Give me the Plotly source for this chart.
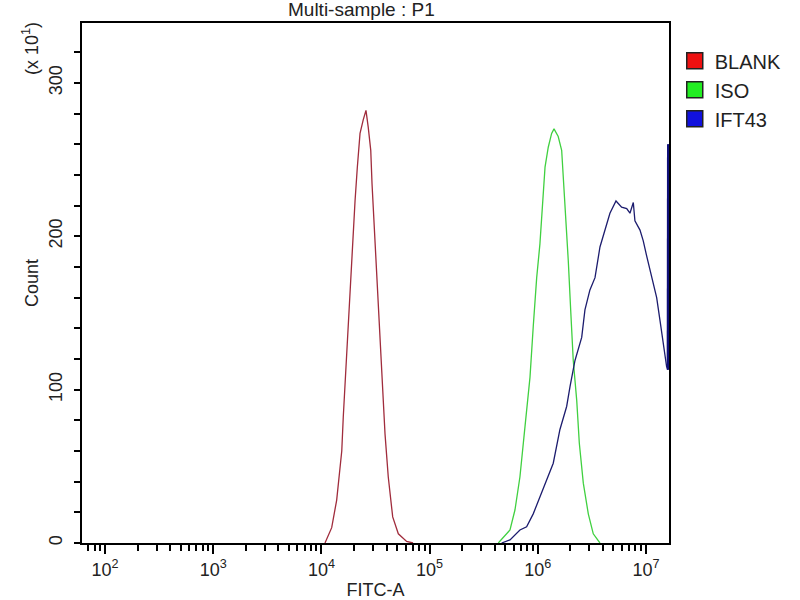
import plotly.graph_objects as go

# ---- data (FITC-A intensity, count in units of x10^1) ----
blank_x = [10790, 12450, 13840, 15420, 15920, 16870, 17740, 18660, 19450, 20460,
           21480, 22750, 24380, 25820, 27100, 28580, 29380, 31260, 33570, 36060,
           38730, 41500, 45600, 51400, 61380, 70310]
blank_y = [0, 10, 28, 60, 82, 115, 150, 176, 202, 223,
           245, 267, 276, 282, 271, 256, 234, 197, 163, 115,
           71, 43, 17, 6, 1, 0]

iso_x = [431500, 553400, 615200, 683900, 762100, 847200, 907800, 977200, 1047000,
         1125000, 1167000, 1250000, 1343000, 1413000, 1545000, 1663000, 1722000,
         1849000, 1914000, 2014000, 2128000, 2291000, 2421000, 2636000, 2931000,
         3258000, 3758000]
iso_y = [0, 8.5, 21.5, 43, 76, 108, 141, 173, 195,
         228, 245, 258, 267, 270, 265, 256, 239,
         206, 184, 152, 119, 93, 65, 39, 19,
         6, 0]

ift43_x = [463400, 553400, 683900, 788900, 907800, 1047000, 1208000, 1390000,
           1603000, 1849000, 1986000, 2208000, 2547000, 2729000, 3034000, 3381000,
           3758000, 4027000, 4645000, 5284000, 5957000, 6637000, 7112000, 7638000,
           7907000, 8810000, 9441000, 10160000, 11300000, 12560000, 13490000,
           14490000, 15520000, 15960000, 16070000]
ift43_y = [0, 2, 8.5, 10.6, 19, 30, 41, 52,
           74, 89, 102, 119, 134, 152, 165, 173,
           193, 200, 215, 223, 219, 218, 215, 222,
           210, 204, 197, 187, 173, 160, 145,
           130, 115, 113, 260]

series_names = ["BLANK", "ISO", "IFT43"]
line_colors = ["#a02c3c", "#40d040", "#1c1c6e"]
swatch_colors = ["#ee1111", "#22ee22", "#1111dd"]

x_tickvals = [1e2, 1e3, 1e4, 1e5, 1e6, 1e7]
x_ticktext = ["10<sup>2</sup>", "10<sup>3</sup>", "10<sup>4</sup>",
              "10<sup>5</sup>", "10<sup>6</sup>", "10<sup>7</sup>"]

FONT = "Liberation Sans, Arial, sans-serif"

fig = go.Figure()
for xs, ys, col in [(blank_x, blank_y, line_colors[0]),
                    (iso_x, iso_y, line_colors[1]),
                    (ift43_x, ift43_y, line_colors[2])]:
    fig.add_trace(go.Scatter(x=xs, y=ys, mode="lines",
                             line=dict(color=col, width=1.3),
                             showlegend=False, hoverinfo="skip"))
# top-bin spike drawn heavier, as in the reference
fig.add_trace(go.Scatter(x=ift43_x[-2:], y=ift43_y[-2:], mode="lines",
                         line=dict(color="#10107a", width=2.5),
                         showlegend=False, hoverinfo="skip"))

for name, col in zip(series_names, swatch_colors):
    fig.add_trace(go.Scatter(x=[None], y=[None], mode="markers", name=name,
                             marker=dict(symbol="square", size=20, color=col,
                                         line=dict(color="#222222", width=1.5))))

fig.update_layout(
    width=800, height=600,
    margin=dict(l=82, r=131, t=23, b=57, autoexpand=False),
    paper_bgcolor="white", plot_bgcolor="white",
    font=dict(family=FONT, size=18, color="#222222"),
    legend=dict(x=1.0098, y=0.965, xanchor="left", yanchor="top",
                font=dict(size=20, color="#222222"), tracegroupgap=0,
                itemwidth=30, bgcolor="rgba(0,0,0,0)"),
    xaxis=dict(type="log", range=[1.787, 7.213],
               tickmode="array", tickvals=x_tickvals, ticktext=x_ticktext,
               ticks="outside", ticklen=9, tickwidth=1.5, tickcolor="black",
               showline=True, linecolor="black", linewidth=2, mirror=True,
               showgrid=False, zeroline=False,
               minor=dict(ticks="outside", ticklen=6, tickwidth=1.5,
                          tickcolor="black", dtick="D1", showgrid=False),
               tickfont=dict(size=18),
               title=dict(text="FITC-A", font=dict(size=18), standoff=8)),
    yaxis=dict(range=[0, 339], tickmode="linear", tick0=0, dtick=100,
               ticks="outside", ticklen=6, tickwidth=1.5, tickcolor="black",
               tickangle=-90, ticklabelstandoff=5,
               showline=True, linecolor="black", linewidth=2, mirror=True,
               showgrid=False, zeroline=False,
               minor=dict(ticks="outside", ticklen=6, tickwidth=1.5,
                          tickcolor="black", dtick=20, showgrid=False),
               tickfont=dict(size=18),
               title=dict(text="Count", font=dict(size=18), standoff=2)),
    annotations=[
        dict(text="Multi-sample : P1", xref="paper", yref="paper",
             x=(361.5 - 82) / 587, y=(543 - 9) / 520,
             xanchor="center", yanchor="middle", showarrow=False,
             font=dict(size=19)),
        dict(text="(x 10<sup>1</sup>)", xref="paper", yref="paper",
             x=(30 - 82) / 587, y=(543 - 49) / 520, textangle=-90,
             xanchor="center", yanchor="middle", showarrow=False,
             font=dict(size=18)),
    ],
)

fig.write_html("out.html", config={"displayModeBar": False},
               post_script="document.body.style.margin='0';document.body.style.overflow='hidden';")
